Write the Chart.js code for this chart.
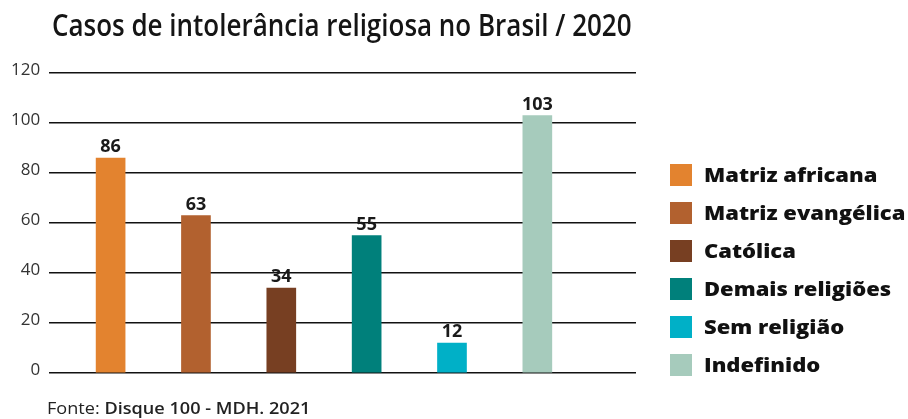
<!DOCTYPE html>
<html lang="pt">
  <head>
    <meta charset="UTF-8" />
    <title>Casos de intolerância religiosa no Brasil / 2020</title>
    <style>
      * {
        margin: 0;
        padding: 0;
        box-sizing: border-box;
      }
      body {
        width: 908px;
        height: 419px;
        background: #fff;
        position: relative;
        overflow: hidden;
        font-family: "Open Sans", sans-serif;
      }
      #title {
        position: absolute;
        left: 52px;
        top: 3px;
        font-size: 31px;
        font-weight: 600;
        color: #151515;
        white-space: nowrap;
        transform-origin: 0 0;
      }
      #wrap {
        position: absolute;
        left: 0;
        top: 0;
        width: 908px;
        height: 419px;
      }
      #legend {
        position: absolute;
        left: 670px;
        top: 164px;
        list-style: none;
      }
      #legend li {
        height: 38px;
        display: flex;
        align-items: flex-start;
        font-size: 20px;
        font-weight: 800;
        color: #111;
        white-space: nowrap;
      }
      #legend li span.box {
        width: 22px;
        height: 22px;
        margin-right: 12px;
        flex: none;
      }
      #legend li span.txt {
        display: inline-block;
        line-height: 22px;
        transform-origin: 0 50%;
      }
      #source {
        position: absolute;
        left: 47px;
        top: 396px;
        font-size: 17px;
        color: #222;
        white-space: nowrap;
        transform-origin: 0 0;
      }
      #source b {
        font-weight: 600;
      }
    </style>
    <script src="https://cdn.jsdelivr.net/npm/chart.js@4"></script>
  </head>
  <body>
    <div id="wrap"><canvas id="myChart" width="908" height="419"></canvas></div>
    <div id="title">Casos de intolerância religiosa no Brasil / 2020</div>
    <ul id="legend"></ul>
    <div id="source">Fonte: <b>Disque 100 - MDH. 2021</b></div>

    <script>
      // data
      const categories = [
        "Matriz africana",
        "Matriz evangélica",
        "Católica",
        "Demais religiões",
        "Sem religião",
        "Indefinido",
      ];
      const cases = [86, 63, 34, 55, 12, 103];
      const barColors = ["#E3832F", "#B2612F", "#773F22", "#00807B", "#00B0C7", "#A6CBBC"];
      const yTicks = [0, 20, 40, 60, 80, 100, 120];

      // squeeze the condensed-looking texts to the widths in the original
      function fitWidth(el, w) {
        el.style.display = "inline-block";
        const k = w / el.offsetWidth;
        el.style.transform = "scaleX(" + k + ")";
        return k;
      }
      fitWidth(document.getElementById("title"), 580);
      fitWidth(document.getElementById("source"), 263);

      // legend from the same arrays
      const legendEl = document.getElementById("legend");
      categories.forEach((c, i) => {
        legendEl.innerHTML += `<li><span class="box" style="background:${barColors[i]}"></span><span class="txt">${c}</span></li>`;
      });
      const legendTexts = document.querySelectorAll("#legend .txt");
      const k = 201 / legendTexts[1].offsetWidth; // "Matriz evangélica" is 201px wide
      legendTexts.forEach((el) => {
        el.style.transform = "scaleX(" + k + ")";
      });

      // numbers over the bars
      const valueLabels = {
        id: "valueLabels",
        afterDatasetsDraw(chart) {
          const ctx = chart.ctx;
          const meta = chart.getDatasetMeta(0);
          ctx.save();
          ctx.font = "bold 18px 'Open Sans', sans-serif";
          ctx.fillStyle = "#1a1a1a";
          ctx.textAlign = "center";
          ctx.textBaseline = "alphabetic";
          meta.data.forEach((bar, i) => {
            ctx.fillText(cases[i], bar.x, bar.y - 6);
          });
          ctx.restore();
        },
      };

      const ctx = document.getElementById("myChart").getContext("2d");
      const myChart = new Chart(ctx, {
        type: "bar",
        data: {
          datasets: [
            {
              label: "Casos",
              data: cases.map((v, i) => ({ x: i, y: v })),
              backgroundColor: barColors,
              borderWidth: 0,
              barThickness: 29,
            },
          ],
        },
        options: {
          responsive: false,
          animation: false,
          layout: {
            padding: { top: 73, bottom: 46, left: 2, right: 272 },
          },
          scales: {
            x: {
              type: "linear",
              display: false,
              offset: false,
              min: -0.72,
              max: 6.156,
            },
            y: {
              min: 0,
              max: 120,
              afterBuildTicks: (scale) => {
                scale.ticks = yTicks.map((v) => ({ value: v }));
              },
              border: { display: false },
              grid: {
                color: "#111",
                lineWidth: 1.6,
                drawTicks: false,
              },
              ticks: {
                padding: 9,
                color: "#333",
                font: { family: "'Open Sans', sans-serif", size: 17 },
                labelOffset: -3,
              },
            },
          },
          plugins: {
            tooltip: { enabled: false },
            legend: { display: false },
          },
        },
        plugins: [valueLabels],
      });
    </script>
  </body>
</html>
